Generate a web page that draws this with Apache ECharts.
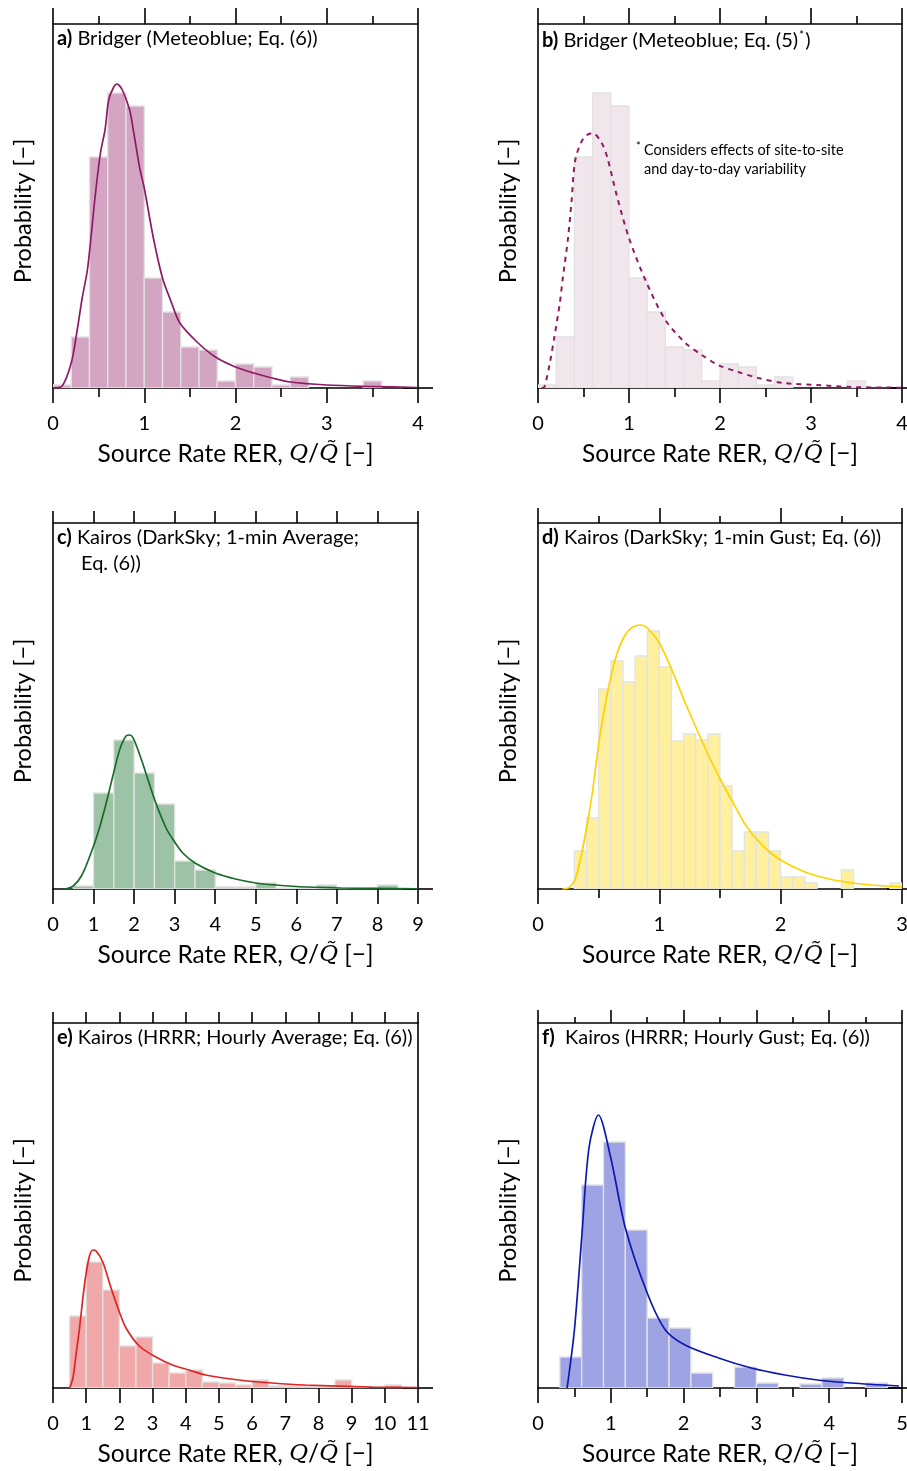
<!DOCTYPE html>
<html>
<head>
<meta charset="utf-8">
<script src="https://cdn.jsdelivr.net/npm/echarts@6/dist/echarts.min.js"></script>
<style>
  html, body { margin: 0; padding: 0; background: #fff; }
  #chart { width: 907px; height: 1471px; }
</style>
</head>
<body>
<div id="chart"></div>
<script>
// ---- Histogram values (probability per bin, unlabeled axis units) ----
// Bridger, Meteoblue wind (bins of 0.2 starting at 0)
const bridgerBinWidth = 0.2;
const bridgerProb = [0.03, 0.51, 2.31, 2.95, 2.82, 1.10, 0.76, 0.41, 0.38, 0.07, 0.24, 0.21, 0.03, 0.11, 0, 0, 0, 0.07];

// Bridger fit, Eq. (6)
const bridgerEq6X = [0, 0.1, 0.2, 0.26, 0.32, 0.38, 0.46, 0.52, 0.57, 0.61, 0.66, 0.70, 0.76, 0.84, 0.88, 0.95, 1.0, 1.1, 1.2, 1.3, 1.39, 1.59, 1.78, 2.0, 2.2, 2.4, 2.6, 3.0, 3.5, 4.0];
const bridgerEq6Y = [0, 0.02, 0.25, 0.55, 0.90, 1.20, 1.90, 2.35, 2.58, 2.88, 3.00, 3.04, 2.98, 2.78, 2.58, 2.20, 2.00, 1.50, 1.10, 0.85, 0.65, 0.45, 0.31, 0.21, 0.15, 0.10, 0.06, 0.03, 0.015, 0.005];

// Bridger fit, Eq. (5)
const bridgerEq5X = [0.04, 0.07, 0.13, 0.18, 0.24, 0.27, 0.33, 0.37, 0.41, 0.5, 0.6, 0.7, 0.76, 0.87, 1.0, 1.18, 1.4, 1.62, 1.8, 1.98, 2.2, 2.42, 2.7, 3.07, 3.44, 4.0];
const bridgerEq5Y = [0, 0.01, 0.25, 0.51, 0.85, 1.08, 1.50, 1.88, 2.28, 2.50, 2.55, 2.45, 2.31, 1.91, 1.50, 1.08, 0.68, 0.45, 0.33, 0.23, 0.16, 0.10, 0.05, 0.03, 0.01, 0.003];

// Kairos, DarkSky 1-min average (bins of 0.5)
const dsAvgBinWidth = 0.5;
const dsAvgProb = [0, 0.03, 0.96, 1.49, 1.16, 0.85, 0.28, 0.19, 0.02, 0.02, 0.06, 0.01, 0.01, 0.04, 0.01, 0.01, 0.04];
const dsAvgFitX = [0.3, 0.5, 0.7, 0.9, 1.1, 1.3, 1.5, 1.65, 1.8, 1.9, 2.0, 2.2, 2.5, 2.8, 3.0, 3.2, 3.5, 4.0, 4.5, 5.0, 5.5, 6.25, 7.1, 9.0];
const dsAvgFitY = [0, 0.03, 0.13, 0.32, 0.55, 0.84, 1.17, 1.40, 1.53, 1.54, 1.49, 1.27, 0.90, 0.60, 0.47, 0.36, 0.26, 0.16, 0.10, 0.06, 0.04, 0.02, 0.01, 0.002];

// Kairos, DarkSky 1-min gust (bins of 0.1)
const dsGustBinWidth = 0.1;
const dsGustProb = [0, 0, 0, 0.38, 0.71, 2.00, 2.28, 2.07, 2.33, 2.58, 2.22, 1.48, 1.55, 1.49, 1.55, 1.03, 0.38, 0.57, 0.57, 0.38, 0.12, 0.12, 0.06, 0, 0, 0.19, 0, 0, 0, 0.06];
const dsGustFitX = [0.2, 0.25, 0.3, 0.35, 0.4, 0.45, 0.5, 0.55, 0.6, 0.65, 0.7, 0.75, 0.8, 0.85, 0.9, 1.0, 1.1, 1.2, 1.3, 1.4, 1.5, 1.6, 1.7, 1.8, 1.9, 2.0, 2.2, 2.4, 2.6, 2.8, 3.0];
const dsGustFitY = [0, 0.01, 0.08, 0.30, 0.61, 0.98, 1.45, 1.82, 2.12, 2.35, 2.50, 2.59, 2.63, 2.64, 2.61, 2.46, 2.20, 1.90, 1.62, 1.35, 1.10, 0.88, 0.66, 0.50, 0.38, 0.29, 0.17, 0.10, 0.06, 0.035, 0.02];

// Kairos, HRRR hourly average (bins of 0.5)
const hrrrAvgBinWidth = 0.5;
const hrrrAvgProb = [0, 0.72, 1.26, 0.98, 0.42, 0.51, 0.25, 0.15, 0.18, 0.06, 0.05, 0.03, 0.08, 0.02, 0.02, 0.02, 0.02, 0.08, 0.01, 0, 0.03, 0];
const hrrrAvgFitX = [0.5, 0.6, 0.7, 0.8, 0.9, 1.0, 1.1, 1.2, 1.3, 1.5, 1.75, 2.0, 2.2, 2.6, 3.1, 3.6, 4.1, 4.6, 5.6, 6.6, 7.6, 9.6, 11];
const hrrrAvgFitY = [0, 0.10, 0.35, 0.60, 0.90, 1.15, 1.32, 1.38, 1.37, 1.26, 1.00, 0.76, 0.60, 0.42, 0.31, 0.23, 0.18, 0.13, 0.08, 0.05, 0.03, 0.01, 0.003];

// Kairos, HRRR hourly gust (bins of 0.3)
const hrrrGustBinWidth = 0.3;
const hrrrGustProb = [0, 0.31, 2.03, 2.46, 1.58, 0.70, 0.60, 0.15, 0, 0.21, 0.05, 0, 0.04, 0.10, 0, 0.05, 0];
const hrrrGustFitX = [0.4, 0.5, 0.6, 0.7, 0.83, 1.0, 1.2, 1.5, 1.75, 2.02, 2.48, 2.93, 3.39, 3.84, 4.3, 4.96];
const hrrrGustFitY = [0, 0.58, 1.50, 2.40, 2.73, 2.30, 1.60, 0.95, 0.58, 0.43, 0.30, 0.20, 0.13, 0.08, 0.05, 0.02];

// Axis extents and tick spacing
const xMaxes = [4, 4, 9, 3, 11, 5];
const xMajor = [1, 1, 1, 1, 1, 1];

// ---- Panel set-up ----
const FONT = 'Lato';
const panels = [
  { label: 'a)', title: ' Bridger (Meteoblue; Eq. (6))', bw: bridgerBinWidth, prob: bridgerProb, fx: bridgerEq6X, fy: bridgerEq6Y,
    bar: '#D4A5C2', line: '#8E1B63', dashed: false, minor: true, topMaj: 16, topMin: 8 },
  { label: 'b)', title: ' Bridger (Meteoblue; Eq. (5)', sup: true, bw: bridgerBinWidth, prob: bridgerProb, fx: bridgerEq5X, fy: bridgerEq5Y,
    bar: '#F0E6EC', line: '#8E1B63', dashed: true, minor: true, topMaj: 16, topMin: 8 },
  { label: 'c)', title: ' Kairos (DarkSky; 1-min Average;', title2: 'Eq. (6))', bw: dsAvgBinWidth, prob: dsAvgProb, fx: dsAvgFitX, fy: dsAvgFitY,
    bar: '#9DC3A6', line: '#1A6A2A', dashed: false, minor: false, topMaj: 12, topMin: 0 },
  { label: 'd)', title: ' Kairos (DarkSky; 1-min Gust; Eq. (6))', bw: dsGustBinWidth, prob: dsGustProb, fx: dsGustFitX, fy: dsGustFitY,
    bar: '#FFF0A0', line: '#FFD200', dashed: false, minor: true, topMaj: 15, topMin: 7 },
  { label: 'e)', title: ' Kairos (HRRR; Hourly Average; Eq. (6))', bw: hrrrAvgBinWidth, prob: hrrrAvgProb, fx: hrrrAvgFitX, fy: hrrrAvgFitY,
    bar: '#F0A8A8', line: '#E02424', dashed: false, minor: false, topMaj: 11, topMin: 0 },
  { label: 'f)', title: '  Kairos (HRRR; Hourly Gust; Eq. (6))', bw: hrrrGustBinWidth, prob: hrrrGustProb, fx: hrrrGustFitX, fy: hrrrGustFitY,
    bar: '#9EA3E3', line: '#0D18B0', dashed: false, minor: true, topMaj: 13, topMin: 6 }
];

const colLeft = [53, 538];
const colWidth = [365, 364];
const rowTop = [24, 523, 1023];
const rowHeight = [364, 366, 365];

const grids = [], xAxes = [], yAxes = [], series = [], graphics = [];
const axisColor = '#000';
const lw = 1.6;

const xName = '{n|Source Rate RER, }{q|Q}{n|/}{q|Q̃}{n| [−]}';
const xNameStyle = {
  color: '#000',
  rich: {
    n: { fontFamily: FONT, fontSize: 24.5, color: '#000' },
    q: { fontFamily: 'DejaVu Serif', fontStyle: 'italic', fontSize: 23, color: '#000' }
  }
};

panels.forEach((p, i) => {
  const col = i % 2, row = Math.floor(i / 2);
  const left = colLeft[col], top = rowTop[row], w = colWidth[col], h = rowHeight[row];
  const yMax = h / 100;
  grids.push({ left: left, top: top, width: w, height: h, containLabel: false, outerBoundsMode: 'none' });

  // bottom axis with labels
  xAxes.push({
    gridIndex: i, type: 'value', position: 'bottom', min: 0, max: xMaxes[i], interval: xMajor[i],
    axisLine: { show: true, onZero: false, symbol: ['none', 'rect'], symbolSize: [lw, 30], lineStyle: { color: axisColor, width: lw } },
    axisTick: { show: true, inside: false, length: 15, lineStyle: { color: axisColor, width: lw } },
    minorTick: { show: p.minor, splitNumber: 2, length: 9, lineStyle: { color: axisColor, width: lw } },
    axisLabel: { show: true, color: '#000', fontFamily: FONT, fontSize: 20, margin: 26, hideOverlap: false,
      showMinLabel: true, showMaxLabel: true, alignMinLabel: 'center', alignMaxLabel: 'center' },
    splitLine: { show: false }, minorSplitLine: { show: false },
    name: xName, nameLocation: 'middle', nameGap: 54, nameTextStyle: xNameStyle
  });
  // top axis, ticks only
  xAxes.push({
    gridIndex: i, type: 'value', position: 'top', min: 0, max: xMaxes[i], interval: xMajor[i],
    axisLine: { show: true, onZero: false, lineStyle: { color: axisColor, width: lw } },
    axisTick: { show: true, inside: false, length: p.topMaj, lineStyle: { color: axisColor, width: lw } },
    minorTick: { show: p.minor, splitNumber: 2, length: p.topMin, lineStyle: { color: axisColor, width: lw } },
    axisLabel: { show: false }, splitLine: { show: false }, minorSplitLine: { show: false }
  });
  yAxes.push({
    gridIndex: i, type: 'value', position: 'left', min: 0, max: yMax,
    axisLine: { show: true, onZero: false, lineStyle: { color: axisColor, width: lw } },
    axisTick: { show: false }, axisLabel: { show: false }, splitLine: { show: false },
    name: 'Probability [−]', nameLocation: 'middle', nameGap: 18,
    nameTextStyle: { fontFamily: FONT, fontSize: 23.5, color: '#000', padding: [0, 10, 0, 0] }
  });
  yAxes.push({
    gridIndex: i, type: 'value', position: 'right', min: 0, max: yMax,
    axisLine: { show: true, onZero: false, lineStyle: { color: axisColor, width: lw } },
    axisTick: { show: false }, axisLabel: { show: false }, splitLine: { show: false }
  });

  // histogram bars
  const barData = p.prob.map((v, k) => [k * p.bw, (k + 1) * p.bw, v]);
  series.push({
    type: 'custom', xAxisIndex: 2 * i, yAxisIndex: 2 * i, clip: true, silent: true,
    data: barData,
    renderItem: (params, api) => {
      const v = api.value(2);
      if (!(v > 0)) return null;
      const p0 = api.coord([api.value(0), v]);
      const p1 = api.coord([api.value(1), 0]);
      return {
        type: 'rect',
        shape: { x: p0[0], y: p0[1], width: p1[0] - p0[0], height: p1[1] - p0[1] },
        style: { fill: p.bar, stroke: '#e2e2e2', lineWidth: 1.3 }
      };
    },
    z: 1
  });
  // fitted distribution
  series.push({
    type: 'line', xAxisIndex: 2 * i, yAxisIndex: 2 * i, silent: true,
    data: p.fx.map((x, k) => [x, p.fy[k]]),
    smooth: 0.3, showSymbol: false, symbol: 'none', clip: true,
    lineStyle: { color: p.line, width: p.dashed ? 2 : 1.7, type: p.dashed ? [5, 5] : 'solid' },
    z: 3
  });

  // panel caption
  graphics.push({
    type: 'text', left: left + 4, top: top + 5, z: 10,
    style: {
      text: '{b|' + p.label + '}{n|' + p.title + '}' + (p.sup ? '{s|*}{n|)}' : ''),
      rich: {
        b: { fontFamily: FONT, fontWeight: 'bold', fontSize: 20, fill: '#000' },
        n: { fontFamily: FONT, fontSize: 20, fill: '#000' },
        s: { fontFamily: FONT, fontSize: 12, fill: '#000', padding: [0, 1, 11, 1] }
      }
    }
  });
  if (p.title2) {
    graphics.push({
      type: 'text', left: left + 28, top: top + 31, z: 10,
      style: { text: p.title2, fontFamily: FONT, fontSize: 20, fill: '#000' }
    });
  }
});

// footnote for the Eq. (5) panel
graphics.push({
  type: 'text', left: 636, top: 141, z: 10,
  style: { text: '*', fontFamily: FONT, fontSize: 11, fill: '#000' }
});
graphics.push({
  type: 'text', left: 644, top: 141, z: 10,
  style: { text: 'Considers effects of site-to-site\nand day-to-day variability', fontFamily: FONT, fontSize: 14.5, lineHeight: 19, fill: '#000' }
});

const chart = echarts.init(document.getElementById('chart'), null, { renderer: 'canvas' });
chart.setOption({
  animation: false,
  backgroundColor: '#fff',
  grid: grids,
  xAxis: xAxes,
  yAxis: yAxes,
  series: series,
  graphic: graphics
});
</script>
</body>
</html>
